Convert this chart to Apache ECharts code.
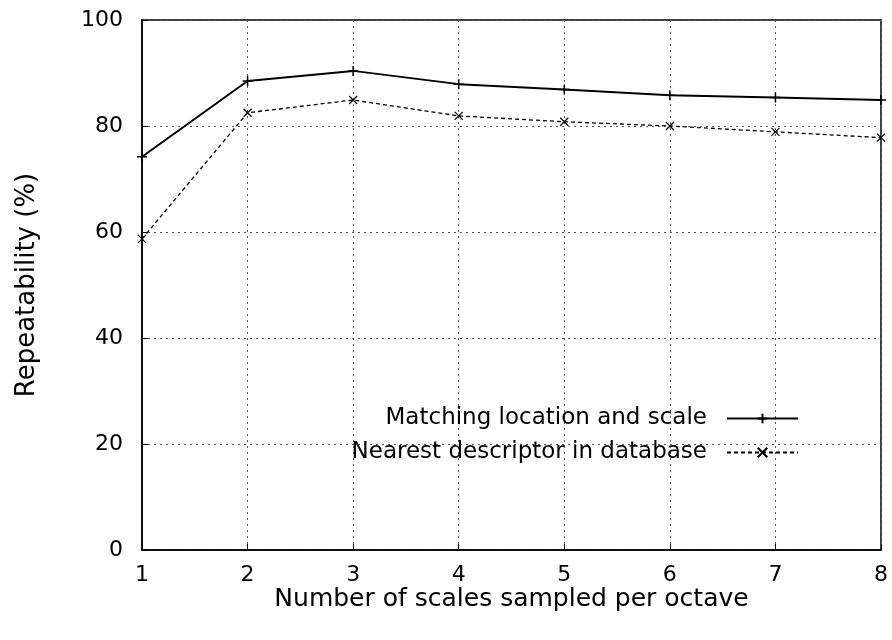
<!DOCTYPE html>
<html><head><meta charset="utf-8">
<script src="https://cdn.jsdelivr.net/npm/echarts@6/dist/echarts.min.js"></script>
<style>html,body{margin:0;padding:0;background:#fff}#c{width:892px;height:640px}</style>
</head><body><div id="c"></div>
<script>
var categories = [1, 2, 3, 4, 5, 6, 7, 8];
var seriesNames = ['Matching location and scale', 'Nearest descriptor in database'];
var matching = [74.2, 88.5, 90.4, 87.9, 86.9, 85.8, 85.4, 84.9];
var nearest = [58.7, 82.5, 84.9, 81.9, 80.8, 80.0, 78.9, 77.8];
var yTicks = [0, 20, 40, 60, 80, 100];

var chart = echarts.init(document.getElementById('c'));
var font = 'DejaVu Sans, sans-serif';
var plus = 'path://M0,5L10,5M5,0L5,10';
var cross = 'path://M0,0L10,10M10,0L0,10';
chart.setOption({
  animation: false,
  backgroundColor: '#fff',
  grid: {left: 142, right: 11, top: 20, bottom: 90, show: true, borderColor: '#000', borderWidth: 1.5},
  legend: {
    orient: 'vertical', align: 'right', right: 88, top: 402,
    itemWidth: 71, itemHeight: 12, itemGap: 11,
    textStyle: {fontFamily: font, fontSize: 23, color: '#000', padding: [0, 15, 0, 0]},
    data: seriesNames
  },
  xAxis: {
    type: 'value', min: 1, max: 8, interval: 1,
    name: 'Number of scales sampled per octave', nameLocation: 'middle', nameGap: 37,
    nameMoveOverlap: false,
    nameTextStyle: {fontFamily: font, fontSize: 25, color: '#000'},
    axisLine: {show: true, lineStyle: {color: '#000', width: 1.5}},
    axisTick: {show: true, inside: true, length: 6, lineStyle: {color: '#000'}},
    axisLabel: {fontFamily: font, fontSize: 22, color: '#000', margin: 14},
    splitLine: {show: true, lineStyle: {color: '#555', type: [2, 4], width: 1}}
  },
  yAxis: {
    type: 'value', min: 0, max: 100, interval: 20,
    name: 'Repeatability (%)', nameLocation: 'middle', nameGap: 102, nameRotate: 90,
    nameTextStyle: {fontFamily: font, fontSize: 26, color: '#000'},
    axisLine: {show: true, lineStyle: {color: '#000', width: 1.5}},
    axisTick: {show: true, inside: true, length: 6, lineStyle: {color: '#000'}},
    axisLabel: {fontFamily: font, fontSize: 22, color: '#000', margin: 19,
      formatter: function (v) { return yTicks.indexOf(v) >= 0 ? String(v) : ''; }},
    splitLine: {show: true, lineStyle: {color: '#555', type: [2, 4], width: 1}}
  },
  series: [
    {
      name: seriesNames[0], type: 'line',
      data: categories.map(function (c, i) { return [c, matching[i]]; }),
      symbol: plus, symbolSize: 10,
      itemStyle: {color: 'none', borderColor: '#000', borderWidth: 1.5},
      lineStyle: {color: '#000', width: 2, type: 'solid'}
    },
    {
      name: seriesNames[1], type: 'line',
      data: categories.map(function (c, i) { return [c, nearest[i]]; }),
      symbol: cross, symbolSize: 8,
      itemStyle: {color: 'none', borderColor: '#000', borderWidth: 1.2},
      lineStyle: {color: '#000', width: 1.3, type: [4, 3]}
    }
  ]
});
</script></body></html>
